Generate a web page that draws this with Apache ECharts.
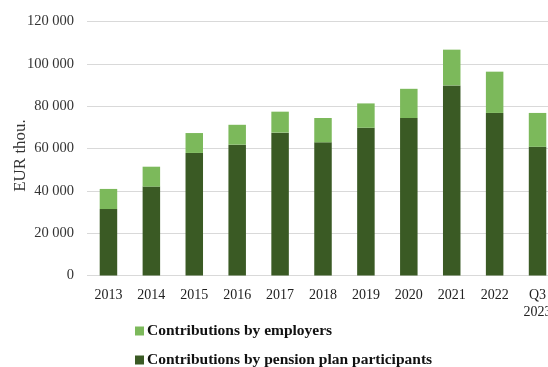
<!DOCTYPE html>
<html>
<head>
<meta charset="utf-8">
<script src="https://cdn.jsdelivr.net/npm/echarts@6/dist/echarts.min.js"></script>
<style>
  html, body { margin: 0; padding: 0; background: #fff; }
  #chart { width: 548px; height: 367px; }
</style>
</head>
<body>
<div id="chart"></div>
<script>
const years = ['2013', '2014', '2015', '2016', '2017', '2018', '2019', '2020', '2021', '2022', 'Q3\n2023']
const participants = [31400, 42000, 57900, 61800, 67500, 62900, 69800, 74400, 89800, 76800, 60800]
const employers = [9500, 9400, 9400, 9400, 9900, 11500, 11500, 13800, 16900, 19500, 16000]

const serif = '"Liberation Serif", "DejaVu Serif", serif'

const chart = echarts.init(document.getElementById('chart'))

chart.setOption({
  animation: false,
  grid: { left: 87, top: 21.5, width: 472, height: 254, outerBoundsMode: 'none', containLabel: false },
  legend: {
    orient: 'vertical',
    left: 130,
    top: 318,
    height: 60,
    itemGap: 13,
    itemWidth: 9,
    itemHeight: 9,
    icon: 'rect',
    data: ['Contributions by employers', 'Contributions by pension plan participants'],
    textStyle: { fontFamily: serif, fontWeight: 'bold', fontSize: 15.5, color: '#111', padding: [0, 0, 0, -2] }
  },
  xAxis: {
    type: 'category',
    data: years,
    axisLine: { show: false },
    axisTick: { show: false },
    axisLabel: { fontFamily: serif, fontSize: 14, color: '#222', margin: 11, lineHeight: 17 }
  },
  yAxis: {
    type: 'value',
    min: 0,
    max: 120000,
    interval: 20000,
    name: 'EUR thou.',
    nameLocation: 'middle',
    nameGap: 58,
    nameMoveOverlap: false,
    nameTextStyle: { fontFamily: serif, fontSize: 17, color: '#333', padding: [0, 14, 0, 0] },
    axisLabel: {
      fontFamily: serif, fontSize: 14.5, color: '#333', margin: 13,
      formatter: v => String(v).replace(/\B(?=(\d{3})+(?!\d))/g, ' ')
    },
    splitLine: { lineStyle: { color: '#d9d9d9' } }
  },
  series: [
    {
      name: 'Contributions by pension plan participants',
      type: 'bar',
      stack: 'total',
      barWidth: 17.5,
      itemStyle: { color: '#3a5a24' },
      data: participants
    },
    {
      name: 'Contributions by employers',
      type: 'bar',
      stack: 'total',
      barWidth: 17.5,
      itemStyle: { color: '#7cb95b' },
      data: employers
    }
  ]
})

window.addEventListener('resize', () => {
  chart.resize()
})
</script>
</body>
</html>
